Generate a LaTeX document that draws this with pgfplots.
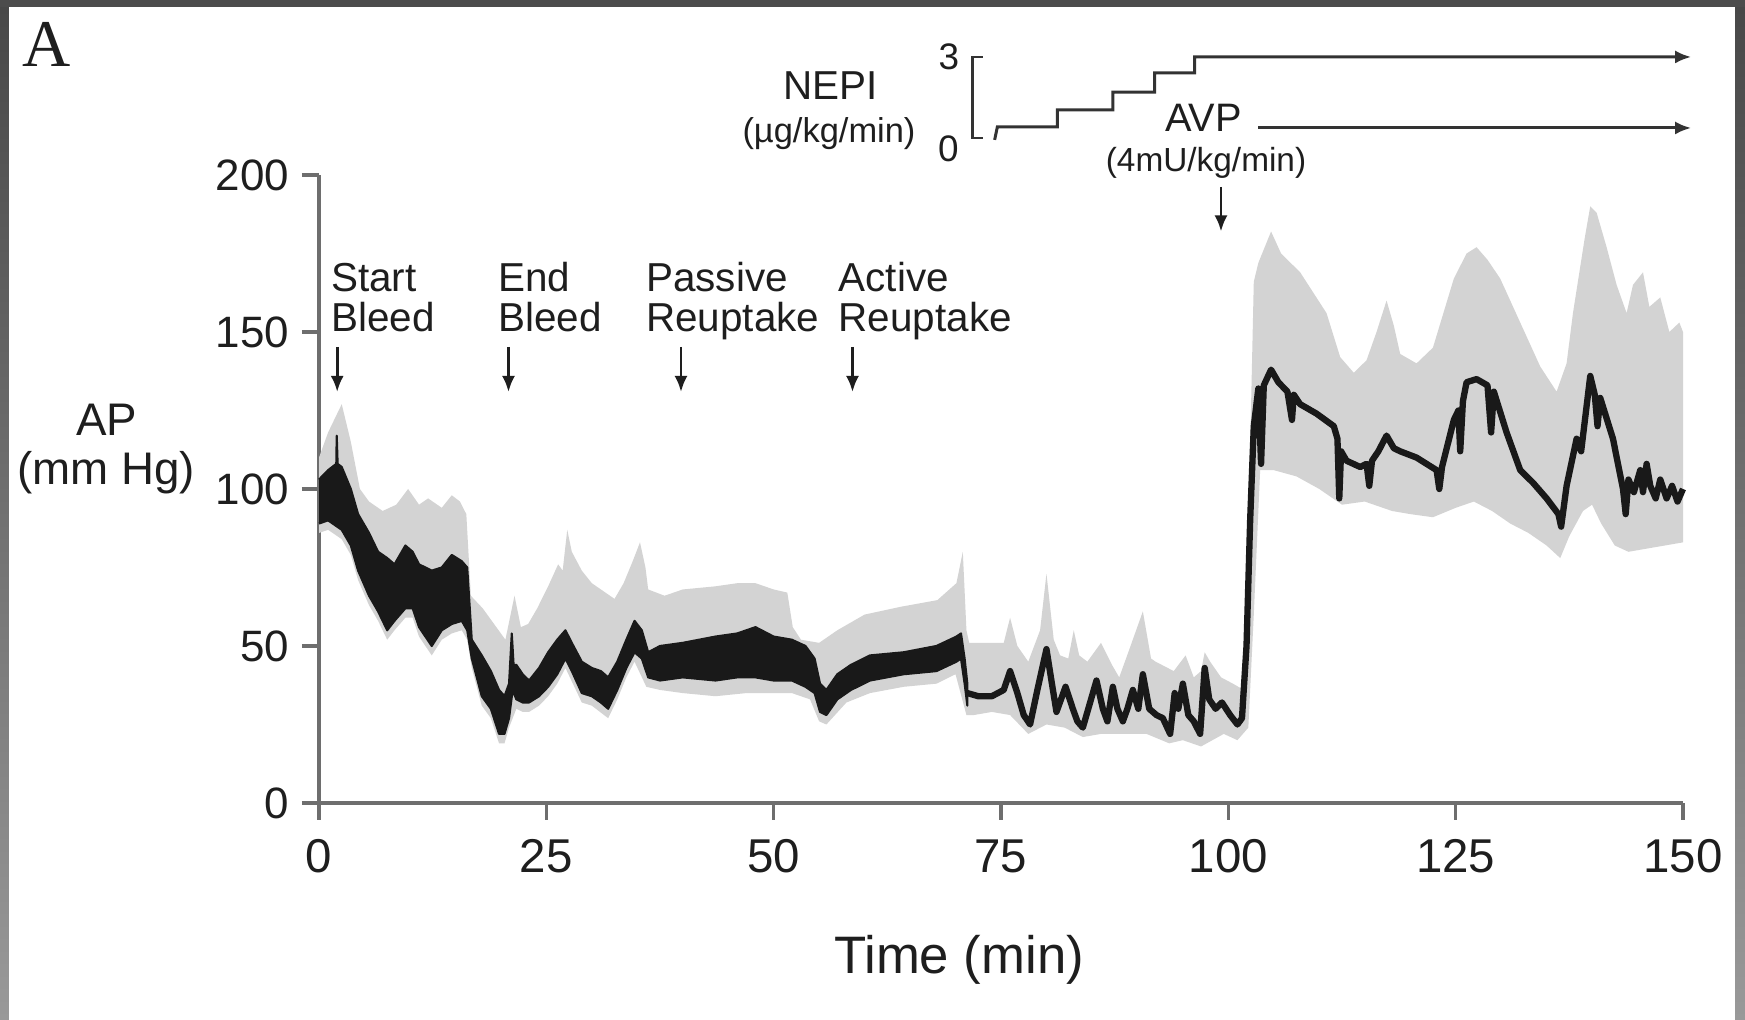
\documentclass[border=0pt]{standalone}
\usepackage{pgfplots}
\pgfplotsset{compat=1.18}
\usetikzlibrary{arrows.meta}
\usepackage{fontspec}
\setmainfont{Liberation Sans}
\newfontfamily\seriffont{Liberation Serif}
\definecolor{axisgray}{HTML}{6E6E6E}
\definecolor{textc}{HTML}{1E1E1E}
\definecolor{bandgray}{HTML}{D3D3D3}
\definecolor{linec}{HTML}{333333}
\begin{document}
\begin{tikzpicture}
\path[use as bounding box] (0,0) rectangle (174.5mm,102mm);
\fill[white] (0,0) rectangle (174.5mm,102mm);
\shade[top color=black!72, bottom color=black!40] (0,0) rectangle (0.9mm,102mm);
\shade[top color=black!72, bottom color=black!40] (173.5mm,0) rectangle (174.5mm,102mm);
\fill[black!70] (0,101.3mm) rectangle (174.5mm,102mm);

\begin{axis}[
  at={(31.9mm,21.7mm)}, anchor=south west, scale only axis,
  width=136.4mm, height=62.8mm,
  xmin=0, xmax=150, ymin=0, ymax=200,
  axis x line=bottom, axis y line=left,
  axis line style={-, draw=axisgray, line width=0.9pt},
  xtick={0,25,50,75,100,125,150}, ytick={0,50,100,150,200},
  tick align=outside, major tick length=1.7mm,
  tick style={draw=axisgray, line width=0.9pt},
  /pgf/number format/assume math mode=true,
  xticklabel style={font=\fontsize{13.5}{15}\selectfont, text=textc, inner sep=0pt, anchor=north, yshift=-1.9mm},
  yticklabel style={font=\fontsize{12.5}{14}\selectfont, text=textc, inner sep=0pt, anchor=east, xshift=-1.2mm},
  clip=false,
]
% grey band (upper envelope forward, lower envelope backward)
\addplot[fill=bandgray, draw=none] coordinates {
(0,110) (1,118) (2.5,127) (3.5,115) (4.5,100) (5.5,96) (7,93) (8.5,95) (9.8,100) (11,95) (12,97) (13.5,94) (14.6,98) (15.5,96) (16.2,92) (16.7,66) (18,62) (19.5,56) (20.5,52) (21.5,66) (22.2,56) (23,57) (24,62) (25.2,69) (26.3,76) (26.8,74) (27.3,87) (27.8,80) (28.9,74) (30,70) (31,68) (32.5,65) (33.5,70) (34.5,77) (35.3,83) (35.9,75) (36.2,68) (38,66) (40,68) (43.6,69) (46,70) (48,70) (50,68) (51.5,67) (52.1,56) (53,52) (55,51) (57,55) (60,60) (64,62.5) (68,64.6) (70.1,70) (70.8,80) (71.2,55) (71.5,51) (75.3,51) (76,59) (76.8,50) (78,45) (79.3,55) (80,73) (80.8,52) (81.5,47) (82.4,46) (83,55) (83.6,47) (84.5,45) (86,51) (87.2,44) (88,40) (89,48) (90.6,61) (91.5,46) (92,45) (94,42) (95.3,47) (96.2,40) (97,42) (97.4,48) (98,45) (99.2,40) (100.5,38) (101.7,36) (102.3,100) (102.8,166) (103.3,172) (104.7,182) (105.8,175) (107.9,169) (110.8,156) (112.3,142) (113.8,137) (115.2,141) (116.3,150) (117.4,160) (118.2,152) (118.9,143) (120.7,140) (122.5,145) (124.8,167) (126.2,175) (127.3,177) (128.5,173) (129.9,167) (132.1,153) (134.3,139) (136.1,131) (137.2,140) (137.9,156) (139.2,180) (139.8,190) (140.5,188) (141.6,177) (142.7,165) (143.8,156) (144.5,165) (145.6,169) (146.3,158) (147.5,161) (148.5,150) (149.6,153) (150,150)
(150,83) (148,82) (146,81) (144,80) (142.5,82) (141,89) (140,95) (139,93) (137.5,85) (136.5,78) (135,82) (133,86) (131,89) (129,93) (127,96) (125,94) (122.5,91) (120,92) (118,93) (115,96) (112.5,95) (110,100) (107.5,104) (105,106) (103.5,106) (102.8,60) (102.2,24) (101,20) (99.5,22) (97,18) (95,20) (93.5,19) (91,22) (88,22) (86,22) (84,21) (82,24) (80,25) (78,22) (76,28) (74,29) (72,28) (71.2,28) (70,41) (67.9,38) (64.3,37) (60.6,35) (58,32) (55.8,25) (55,26) (54,33) (52,35) (50,35) (47,35) (43.6,34) (40,35) (37.5,36) (36,37) (34.7,45) (33.8,40) (32.8,33) (31.8,27) (30,31) (28.9,32) (27.1,43) (26.2,38) (25.2,34) (24.2,31) (23.1,29) (22.4,29) (21.7,30) (20.9,24) (20.4,19) (19.8,19) (18.9,27) (17.9,31) (16.8,43) (16.3,52) (15.7,55) (14.6,54) (13.5,52) (12.4,47) (11,53) (10.3,59) (9.5,59) (8.3,55) (7.5,52) (6.5,58) (5.5,63) (4.3,71) (3.5,79) (2.5,84) (1,87) (0,86)
};
% black band, 0-71 min (upper edge forward, lower edge backward)
\addplot[fill=black!90, draw=black!90, line width=0.6pt, line join=round] coordinates {
(0,103) (1,106) (1.9,108) (1.95,117) (2.05,108) (2.5,107) (3.5,100) (4.3,92) (5.5,86) (6.5,80) (7.5,78) (8.3,76) (9.5,82) (10.3,80) (11,76) (12.4,74) (13.5,75) (14.6,79) (15.7,77) (16.3,75) (16.8,52) (17.9,47) (18.9,42) (19.8,36) (20.4,34) (20.9,38) (21.2,54) (21.4,44) (21.7,44) (22.4,41) (23.1,39) (24.2,43) (25.2,48) (26.2,52) (27.1,55) (27.8,51) (28.9,45) (30,43) (31,42) (31.8,40) (32.8,45) (33.8,52) (34.7,58) (35.5,55) (36.2,48) (37.5,50) (40,51) (43.6,53) (46,54) (48,56) (50,53) (52,52) (53.5,50) (54.5,46) (55.1,38) (55.8,36) (57,41) (58.5,44) (60.6,47) (64.3,48) (67.9,50) (70.1,53) (70.6,54) (71,46) (71.3,38)
(71.3,31) (71,38) (70.6,46) (70.1,45) (67.9,42) (64.3,41) (60.6,39) (58.5,36) (57,33) (55.8,28) (55.1,29) (54.5,35) (53.5,37) (52,39) (50,39) (48,40) (46,40) (43.6,39) (40,40) (37.5,39) (36.2,40) (35.5,46) (34.7,48) (33.8,43) (32.8,36) (31.8,30) (31,32) (30,34) (28.9,35) (27.8,42) (27.1,46) (26.2,41) (25.2,37) (24.2,34) (23.1,32) (22.4,32) (21.7,33) (21.3,36) (20.9,27) (20.4,22) (19.8,22) (18.9,30) (17.9,34) (16.8,46) (16.3,55) (15.7,58) (14.6,57) (13.5,55) (12.4,50) (11,56) (10.3,62) (9.5,62) (8.3,58) (7.5,55) (6.5,61) (5.5,66) (4.3,74) (3.5,82) (2.5,87) (1,90) (0,89)
};
% black mean line, 71-150 min
\addplot[draw=black!90, line width=1.8pt, line join=round] coordinates {
(71.3,35) (72.5,34) (74,34) (75.3,36) (76,42) (76.8,35) (77.5,28) (78.2,25) (79,36) (80,49) (80.6,38) (81.1,29) (81.6,33) (82.1,37) (82.9,30) (83.4,26) (84,24) (84.6,30) (85.5,39) (86.2,30) (86.7,26) (87.3,37) (87.8,30) (88.4,26) (88.9,30) (89.5,36) (90.1,30) (90.6,41) (91.3,30) (92.1,28) (92.8,27) (93.6,22) (94.1,35) (94.5,30) (95,38) (95.6,28) (96.2,26) (96.9,22) (97.4,43) (97.9,33) (98.6,30) (99.3,32) (100.2,28) (101,25) (101.5,27) (102,50) (102.4,90) (102.8,120) (103.3,132) (103.6,108) (103.9,133) (104.7,138) (105.5,134) (106.5,131) (107,122) (107.2,130) (107.9,127) (109.7,124) (111.6,120) (112,116) (112.2,97) (112.4,112) (113,109) (114.5,107) (115.2,108) (115.5,101) (115.8,109) (116.5,112) (117.4,117) (118.2,113) (118.9,112) (120.7,110) (122.9,106) (123.2,100) (123.5,107) (124.8,122) (125.3,125) (125.5,112) (125.8,128) (126.2,134) (127.3,135) (128.5,133) (128.9,118) (129.2,131) (130.6,118) (132.1,106) (133.5,102) (135,97) (136.3,92) (136.6,88) (137.2,101) (138.3,116) (138.8,112) (139.8,136) (140.3,130) (140.6,120) (140.9,129) (142.3,116) (143.4,100) (143.7,92) (144,103) (144.6,99) (145.3,106) (145.6,99) (146,108) (146.4,101) (147,97) (147.5,103) (148.2,97) (148.8,101) (149.4,96) (150,100)
};
\end{axis}

% NEPI / AVP infusion inset
\begin{axis}[
  at={(31.9mm,88.2mm)}, anchor=south west, scale only axis,
  width=136.4mm, height=8.1mm,
  xmin=0, xmax=150, ymin=0, ymax=3,
  hide axis, clip=false,
]
\addplot[draw=linec, line width=0.85pt, -{Latex[length=1.6mm,width=1.3mm]}] coordinates {
(74.3,-0.07) (74.6,0.41) (81.2,0.41) (81.2,1.04) (87.3,1.04) (87.3,1.70) (91.9,1.70) (91.9,2.41) (96.3,2.41) (96.3,3.0) (150.9,3.0)
};
\addplot[draw=linec, line width=0.85pt, -{Latex[length=1.6mm,width=1.3mm]}] coordinates {
(103.3,0.37) (150.9,0.37)
};
\addplot[draw=linec, line width=0.8pt] coordinates {
(73.0,3) (71.9,3) (71.9,0) (73.0,0)
};
\end{axis}

% panel letter
\node[anchor=base west, inner sep=0pt, text=textc, font=\seriffont\fontsize{19}{21}\selectfont] at (2.2mm,95.3mm) {A};

% annotation texts
\begin{scope}[every node/.style={anchor=base west, inner sep=0pt, text=textc, font=\fontsize{11.5}{13}\selectfont}]
\node at (33.05mm,72.84mm) {Start};
\node at (33.05mm,68.84mm) {Bleed};
\node at (49.75mm,72.84mm) {End};
\node at (49.75mm,68.84mm) {Bleed};
\node at (64.55mm,72.84mm) {Passive};
\node at (64.55mm,68.84mm) {Reuptake};
\node at (83.8mm,72.84mm) {Active};
\node at (83.8mm,68.84mm) {Reuptake};
\end{scope}
\begin{scope}[textc, line width=0.8pt, -{Latex[length=1.6mm,width=1.3mm]}]
\draw (33.72mm,67.3mm) -- (33.72mm,62.8mm);
\draw (50.85mm,67.3mm) -- (50.85mm,62.8mm);
\draw (68.1mm,67.3mm) -- (68.1mm,62.8mm);
\draw (85.25mm,67.3mm) -- (85.25mm,62.8mm);
\draw (122.1mm,83.3mm) -- (122.1mm,78.85mm);
\end{scope}

% inset labels
\node[anchor=base, inner sep=0pt, text=textc, font=\fontsize{11.5}{13}\selectfont] at (83.06mm,92.0mm) {NEPI};
\node[anchor=base, inner sep=0pt, text=textc, font=\fontsize{9.8}{11}\selectfont] at (82.9mm,87.75mm) {(µg/kg/min)};
\node[anchor=base, inner sep=0pt, text=textc, font=\fontsize{10.5}{12}\selectfont] at (94.9mm,95.0mm) {3};
\node[anchor=base, inner sep=0pt, text=textc, font=\fontsize{10.5}{12}\selectfont] at (94.85mm,85.8mm) {0};
\node[anchor=base, inner sep=0pt, text=textc, font=\fontsize{11.3}{13}\selectfont] at (120.35mm,88.8mm) {AVP};
\node[anchor=base, inner sep=0pt, text=textc, font=\fontsize{9.5}{11}\selectfont] at (120.6mm,84.8mm) {(4mU/kg/min)};

% axis titles
\node[anchor=base, inner sep=0pt, text=textc, font=\fontsize{13}{15}\selectfont] at (10.7mm,58.4mm) {AP};
\node[anchor=base, inner sep=0pt, text=textc, font=\fontsize{13}{15}\selectfont] at (10.63mm,53.5mm) {(mm Hg)};
\node[anchor=base, inner sep=0pt, text=textc, font=\fontsize{15}{17}\selectfont] at (95.9mm,4.6mm) {Time (min)};
\end{tikzpicture}
\end{document}
